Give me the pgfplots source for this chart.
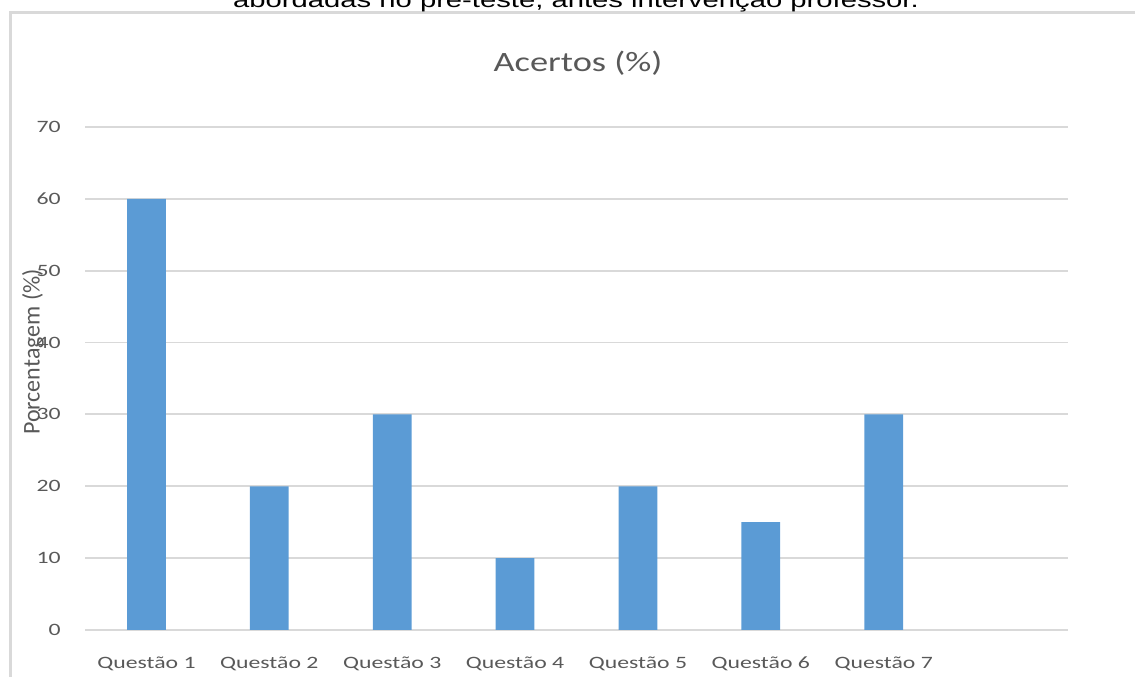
\documentclass[border=0pt]{standalone}
\usepackage{pgfplots}
\pgfplotsset{compat=1.18}
\usepackage{fontspec}
\setmainfont{Carlito}[FakeStretch=1.37]
\newfontfamily\titlefont{Carlito}[FakeStretch=1.3]
\newfontfamily\ylabfont{Carlito}
\newfontfamily\arialfont{Liberation Sans}[FakeStretch=1.37]
\definecolor{barblue}{HTML}{5B9BD5}
\definecolor{gridgray}{HTML}{D9D9D9}
\definecolor{txtgray}{HTML}{595959}
\begin{document}
\begin{tikzpicture}
\useasboundingbox (0,0) rectangle (851.25pt,507.75pt);
\clip (0,0) rectangle (851.25pt,507.75pt);
% chart border
\draw[gridgray, line width=1.6pt] (7.9pt,-20pt) -- (7.9pt,498.4pt) -- (870pt,498.4pt);
% cut caption (cut off at the top in the reference as well)
\node[anchor=base, inner sep=0pt, font=\arialfont\fontsize{16pt}{19pt}\selectfont, text=black] at (432pt,502pt) {abordadas no pré-teste, antes intervenção professor.};
\begin{axis}[
  at={(63.75pt,35.25pt)}, anchor=south west,
  scale only axis, width=737.25pt, height=377.25pt,
  xmin=0.5, xmax=8.5, ymin=0, ymax=70,
  ytick={0,10,...,70},
  xtick={1,2,3,4,5,6,7},
  xticklabels={Questão 1,Questão 2,Questão 3,Questão 4,Questão 5,Questão 6,Questão 7},
  axis line style={draw=none},
  major tick length=0pt,
  ymajorgrids, grid style={gridgray, line width=1.4pt},
  /pgf/number format/assume math mode=true,
  tick label style={font=\fontsize{13pt}{15pt}\selectfont, text=txtgray, inner sep=0pt},
  xticklabel style={anchor=base, yshift=-29.25pt},
  yticklabel style={anchor=east, xshift=-18pt},
]
\addplot[ybar, bar width=0.315, fill=barblue, draw=none] coordinates {
  (1,60) (2,20) (3,30) (4,10) (5,20) (6,15) (7,30)
};
\end{axis}
\node[font=\titlefont\fontsize{21pt}{25pt}\selectfont, text=txtgray, inner sep=0pt] at (433.5pt,460.3pt) {Acertos (\%)};
\node[rotate=90, font=\ylabfont\fontsize{18pt}{21pt}\selectfont, text=txtgray, inner sep=0pt] at (24.75pt,243.75pt) {Porcentagem (\%)};
\end{tikzpicture}
\end{document}
